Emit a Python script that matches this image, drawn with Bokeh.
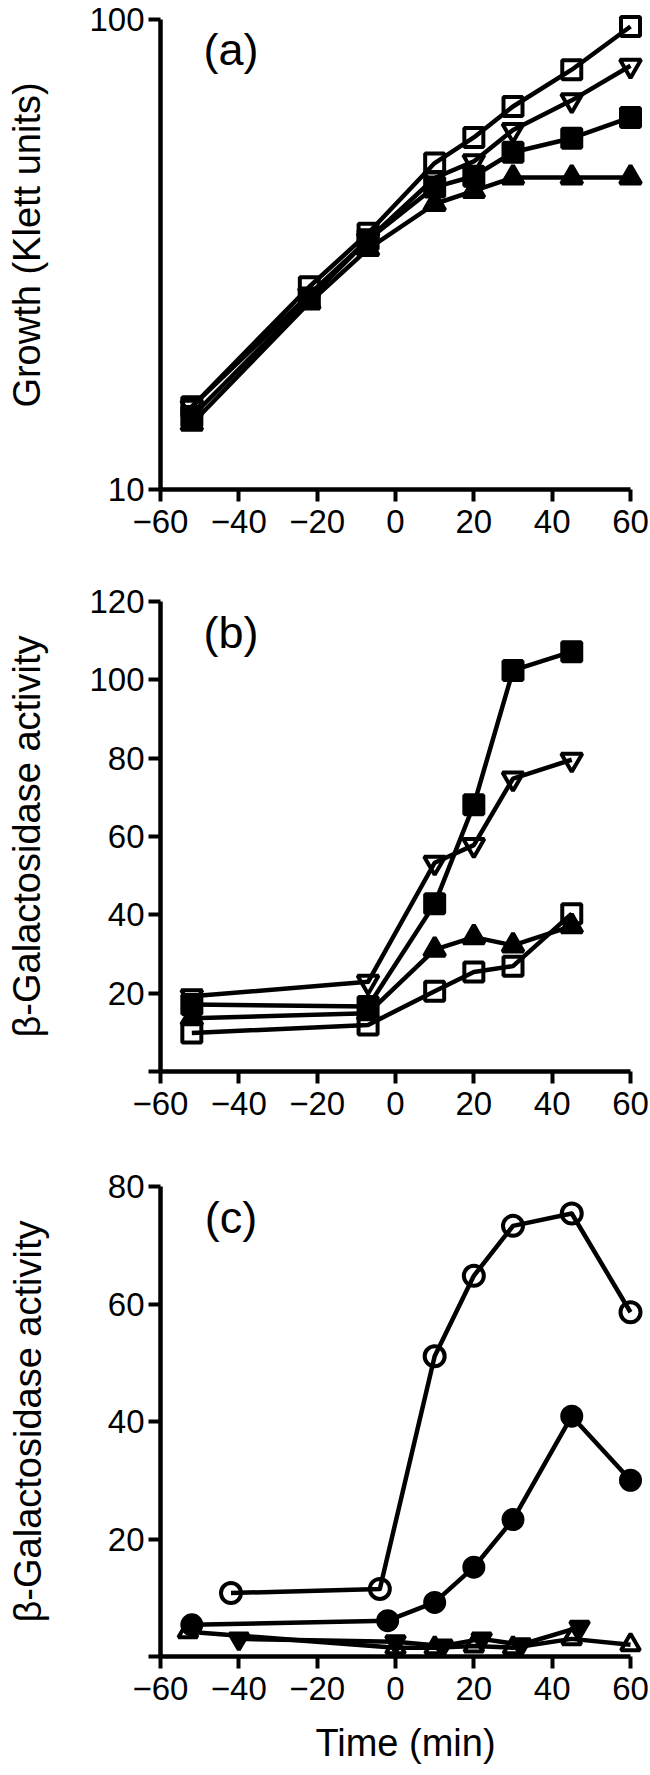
from bokeh.plotting import figure
from bokeh.layouts import column
from bokeh.models import Range1d, FixedTicker, Label
from bokeh.embed import file_html
from bokeh.resources import INLINE

FONT = "Liberation Sans"

x_ticks = [-60, -40, -20, 0, 20, 40, 60]
x_tick_labels = ["\u221260", "\u221240", "\u221220", "0", "20", "40", "60"]

# ---- Panel (a): growth (Klett units), log scale
a_time = [-52, -22, -7, 10, 20, 30, 45, 60]
a_open_square = [15.0, 27.0, 35.1, 49.5, 56.1, 65.3, 78.2, 96.6]
a_open_down_tri = [15.0, 26.0, 34.0, 46.0, 49.9, 58.2, 67.3, 79.7]
a_filled_square = [14.3, 25.5, 34.0, 44.0, 46.4, 52.2, 55.9, 61.9]
a_filled_tri = [13.8, 25.0, 32.5, 40.5, 43.2, 46.1, 46.1, 46.1]
a_y_ticks = [10, 100]
a_y_tick_labels = ["10", "100"]

# ---- Panel (b): beta-galactosidase activity
b_time = [-52, -7, 10, 20, 30, 45]
b_open_square = [9.8, 11.9, 20.5, 25.4, 26.9, 40.3]
b_open_down_tri = [19.2, 22.9, 53.3, 57.8, 74.8, 79.6]
b_filled_tri = [13.6, 14.9, 31.1, 34.3, 32.2, 37.1]
b_filled_square = [17.1, 16.6, 42.8, 68.1, 102.4, 107.2]
b_y_ticks = [0, 20, 40, 60, 80, 100, 120]
b_y_tick_labels = ["", "20", "40", "60", "80", "100", "120"]

# ---- Panel (c): beta-galactosidase activity
c_open_circle_time = [-42, -4, 10, 20, 30, 45, 60]
c_open_circle = [10.8, 11.5, 51.1, 64.8, 73.3, 75.4, 58.6]
c_filled_circle_time = [-52, -2, 10, 20, 30, 45, 60]
c_filled_circle = [5.4, 6.1, 9.2, 15.2, 23.3, 40.9, 30.0]
c_open_tri_time = [-53, 0, 10, 20, 30, 45, 60]
c_open_tri = [4.2, 1.5, 1.5, 1.8, 1.5, 3.0, 2.0]
c_filled_down_tri_time = [-40, 0, 12, 22, 32, 47]
c_filled_down_tri = [3.0, 2.5, 1.8, 3.0, 2.0, 5.0]
c_y_ticks = [0, 20, 40, 60, 80]
c_y_tick_labels = ["", "20", "40", "60", "80"]

panel_letters = ["(a)", "(b)", "(c)"]
y_titles = ["Growth (Klett units)", "\u03b2-Galactosidase activity", "\u03b2-Galactosidase activity"]
x_title = "Time (min)"

PX_PER_MIN = 470 / 120.0
X_END = 60 + 20 / PX_PER_MIN  # room on the right so the last markers are not clipped


def make_fig(border_top, frame_h, border_bottom, y_range, y_bounds, y_axis_type="linear"):
    p = figure(frame_width=490, frame_height=frame_h,
               min_border_left=160, min_border_right=0,
               min_border_top=border_top, min_border_bottom=border_bottom,
               x_range=Range1d(-60, X_END), y_range=y_range,
               y_axis_type=y_axis_type,
               output_backend="svg", toolbar_location=None)
    p.xgrid.visible = False
    p.ygrid.visible = False
    p.outline_line_color = None
    p.background_fill_color = "white"
    p.border_fill_color = "white"
    for ax in p.axis:
        ax.axis_line_width = 4.5
        ax.axis_line_color = "black"
        ax.major_tick_line_width = 4
        ax.major_tick_line_color = "black"
        ax.major_tick_in = 0
        ax.major_tick_out = 12
        ax.minor_tick_line_color = None
        ax.major_label_text_font = FONT
        ax.major_label_text_font_size = "33px"
        ax.major_label_text_color = "black"
        ax.axis_label_text_font = FONT
        ax.axis_label_text_font_size = "38px"
        ax.axis_label_text_font_style = "normal"
        ax.axis_label_text_color = "black"
    p.xaxis.ticker = FixedTicker(ticks=x_ticks)
    p.xaxis.major_label_overrides = dict(zip(x_ticks, x_tick_labels))
    p.xaxis.major_label_standoff = 8
    p.xaxis.bounds = (-60, 60)
    p.yaxis.major_label_standoff = 4
    p.yaxis.bounds = y_bounds
    return p


def series(p, x, y, marker, filled, size):
    p.line(x, y, line_color="black", line_width=4.5, line_join="round")
    p.scatter(x, y, marker=marker, size=size, line_color="black", line_width=4,
              fill_color="black" if filled else None)


def letter(p, text, x, y):
    p.add_layout(Label(x=x, y=y, text=text, text_align="center", text_baseline="middle",
                       text_font=FONT, text_font_size="45px", text_color="black"))


# Panel a (log scale, 470 px per decade; frame extends above 100 so markers are not clipped)
a_top = 10 ** (1 + 489 / 470.0)
pa = make_fig(0, 489, 86, Range1d(10, a_top), (10, 100), "log")
pa.yaxis.ticker = FixedTicker(ticks=a_y_ticks)
pa.yaxis.major_label_overrides = dict(zip(a_y_ticks, a_y_tick_labels))
pa.yaxis.axis_label = y_titles[0]
pa.yaxis.axis_label_standoff = 38
series(pa, a_time, a_open_square, "square", False, 19)
series(pa, a_time, a_open_down_tri, "inverted_triangle", False, 21)
series(pa, a_time, a_filled_square, "square", True, 19)
series(pa, a_time, a_filled_tri, "triangle", True, 21)
letter(pa, panel_letters[0], -42, 86.3)

# Panel b
pb = make_fig(26, 470, 89, Range1d(0, 120), (0, 120))
pb.yaxis.ticker = FixedTicker(ticks=b_y_ticks)
pb.yaxis.major_label_overrides = dict(zip(b_y_ticks, b_y_tick_labels))
pb.yaxis.axis_label = y_titles[1]
pb.yaxis.axis_label_standoff = 38
series(pb, b_time, b_open_square, "square", False, 19)
series(pb, b_time, b_open_down_tri, "inverted_triangle", False, 21)
series(pb, b_time, b_filled_tri, "triangle", True, 21)
series(pb, b_time, b_filled_square, "square", True, 19)
letter(pb, panel_letters[1], -42, 112)

# Panel c
pc = make_fig(26, 470, 119, Range1d(0, 80), (0, 80))
pc.yaxis.ticker = FixedTicker(ticks=c_y_ticks)
pc.yaxis.major_label_overrides = dict(zip(c_y_ticks, c_y_tick_labels))
pc.yaxis.axis_label = y_titles[2]
pc.yaxis.axis_label_standoff = 56
pc.xaxis.axis_label = x_title
pc.xaxis.axis_label_standoff = 19
series(pc, c_open_circle_time, c_open_circle, "circle", False, 20)
series(pc, c_filled_circle_time, c_filled_circle, "circle", True, 19)
series(pc, c_filled_down_tri_time, c_filled_down_tri, "inverted_triangle", True, 19)
series(pc, c_open_tri_time, c_open_tri, "triangle", False, 19)
letter(pc, panel_letters[2], -42, 74.7)

layout = column(pa, pb, pc, spacing=0,
                styles={"position": "absolute", "left": "0px", "top": "0px"})

open("out.html", "w").write(file_html(layout, INLINE))
